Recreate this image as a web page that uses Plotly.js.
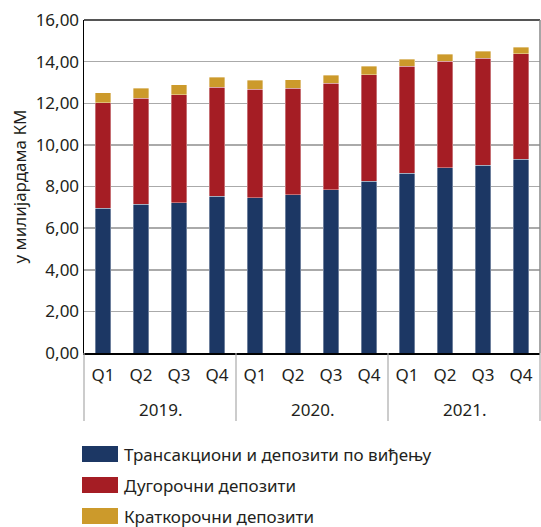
<!DOCTYPE html>
<html>
<head>
<meta charset="utf-8">
<script src="https://cdn.plot.ly/plotly-3.0.1.min.js"></script>
<style>html,body{margin:0;padding:0;background:#fff;}#chart{width:541px;height:527px;}</style>
</head>
<body>
<div id="chart"></div>
<script>
const years = ["2019.","2019.","2019.","2019.","2020.","2020.","2020.","2020.","2021.","2021.","2021.","2021."];
const quarters = ["Q1","Q2","Q3","Q4","Q1","Q2","Q3","Q4","Q1","Q2","Q3","Q4"];
const transakcioni = [6.96,7.15,7.23,7.52,7.45,7.61,7.85,8.25,8.64,8.89,9.02,9.31];
const dugorocni = [5.07,5.09,5.19,5.24,5.23,5.10,5.10,5.13,5.13,5.13,5.15,5.08];
const kratkorocni = [0.47,0.47,0.48,0.49,0.43,0.42,0.40,0.40,0.35,0.34,0.32,0.31];
const seriesNames = ["Трансакциони и депозити по виђењу","Дугорочни депозити","Краткорочни депозити"];
const colors = ["#1c3764","#a51d24","#cc9a2b"];
const yTicks = [0,2,4,6,8,10,12,14,16];
const yTickText = ["0,00","2,00","4,00","6,00","8,00","10,00","12,00","14,00","16,00"];

const font = "Noto Sans, sans-serif";
const txtColor = "#231f20";
const cats = years.map((y,i)=>y+" "+quarters[i]);
const vals = [transakcioni, dugorocni, kratkorocni];
const traces = vals.map((v,i)=>({
  type:"bar", x:cats, y:v, name:seriesNames[i],
  marker:{color:colors[i], line:{color:"rgba(255,255,255,0.45)", width:0.8}},
  showlegend:false
}));

const plotH = 527-20-174; // 333
const plotW = 541-84-1;   // 456
function px2paperX(px){return (px-84)/plotW;}
function px2paperY(py){return (353-py)/plotH;}

const shapes = [
  {type:"line", xref:"paper", yref:"paper", x0:0, x1:1, y0:1, y1:1, line:{color:"#555", width:2}},
  {type:"line", xref:"paper", yref:"paper", x0:1, x1:1, y0:0, y1:1, line:{color:"#888", width:1.5}}
];
const annotations = [];

// year groups: labels and dividers
const groups = [];
years.forEach((y,i)=>{
  if(!groups.length || groups[groups.length-1].name!==y) groups.push({name:y, start:i, end:i});
  else groups[groups.length-1].end = i;
});
groups.forEach((g,gi)=>{
  annotations.push({xref:"x", yref:"paper", x:(g.start+g.end)/2, y:px2paperY(409),
    xanchor:"center", yanchor:"middle", text:g.name, showarrow:false,
    font:{family:font, size:17, color:txtColor}});
  if(gi>0) shapes.push({type:"line", xref:"x", yref:"paper", x0:g.start-0.5, x1:g.start-0.5,
    y0:0, y1:px2paperY(421), line:{color:"#aaa", width:1.2}});
});
shapes.push({type:"line", xref:"paper", yref:"paper", x0:0, x1:0, y0:0, y1:px2paperY(421), line:{color:"#aaa", width:1.2}});
shapes.push({type:"line", xref:"paper", yref:"paper", x0:1, x1:1, y0:0, y1:px2paperY(421), line:{color:"#aaa", width:1.2}});

// custom legend
const legY = [454, 485, 516];
legY.forEach((py,i)=>{
  shapes.push({type:"rect", xref:"paper", yref:"paper",
    x0:px2paperX(82), x1:px2paperX(118), y0:px2paperY(py-8), y1:px2paperY(py+8),
    fillcolor:colors[i], line:{width:0}});
  annotations.push({xref:"paper", yref:"paper", x:px2paperX(122), y:px2paperY(py),
    xanchor:"left", yanchor:"middle", text:seriesNames[i], showarrow:false,
    font:{family:font, size:17, color:txtColor}});
});

const layout = {
  width:541, height:527,
  margin:{l:84, r:1, t:20, b:174},
  paper_bgcolor:"#fff", plot_bgcolor:"#fff",
  barmode:"stack", bargap:0.6,
  font:{family:font, size:17, color:txtColor},
  xaxis:{type:"category", tickvals:cats, ticktext:quarters, showline:true, linecolor:"#000", linewidth:1.5,
    tickfont:{family:font, size:17, color:txtColor}, ticks:"", showgrid:false, ticklabelstandoff:6},
  yaxis:{range:[0,16], tickvals:yTicks, ticktext:yTickText, showline:true, linecolor:"#000", linewidth:1.5,
    gridcolor:"#aaa", gridwidth:1.5, ticks:"", zeroline:false,
    tickfont:{family:font, size:17, color:txtColor},
    title:{text:"у милијардама КМ", font:{family:font, size:17, color:txtColor}, standoff:4}},
  shapes:shapes, annotations:annotations
};
Plotly.newPlot("chart", traces, layout, {displayModeBar:false, staticPlot:true});
</script>
</body>
</html>
